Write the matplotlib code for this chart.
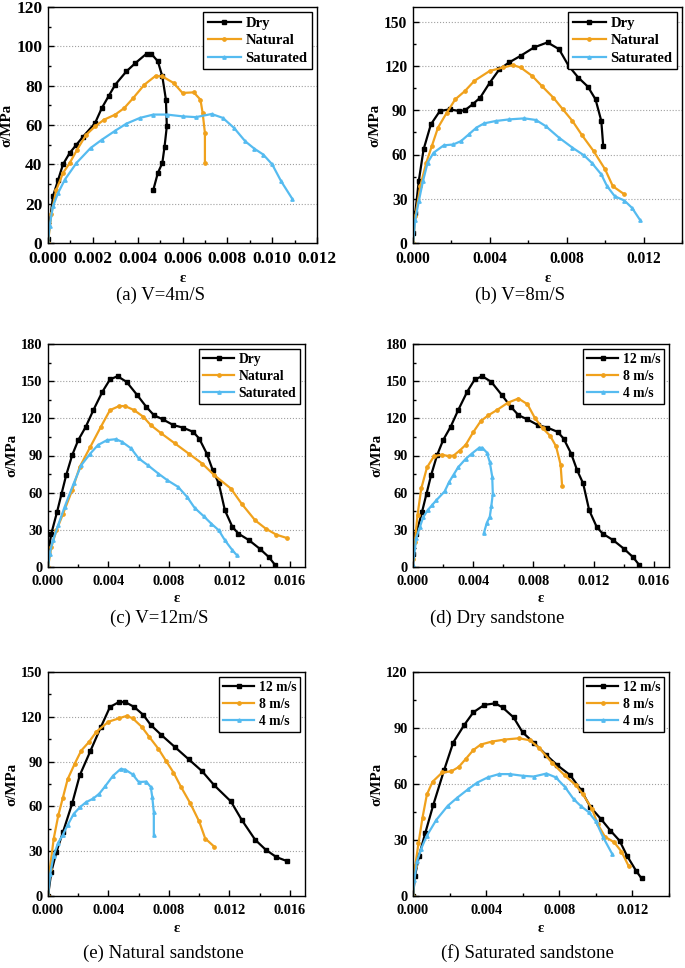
import matplotlib
matplotlib.use("Agg")
import matplotlib.pyplot as plt
from matplotlib.ticker import MultipleLocator, AutoMinorLocator

plt.rcParams['font.family'] = ['Liberation Serif', 'DejaVu Serif']

# ---- data (strain, stress in MPa) ----
# dry sandstone
dry4_x = [0, 0.00022, 0.00045, 0.00067, 0.00097, 0.00127, 0.00156, 0.0021, 0.0024, 0.0027, 0.0030,
          0.0035, 0.0039, 0.0044, 0.0046, 0.0049, 0.0051, 0.00526, 0.0053, 0.0052, 0.0051, 0.0049, 0.0047]
dry4_y = [2, 23.7, 32, 40, 45.8, 50, 54, 61, 68.6, 74.6, 80.5,
          87.3, 91.5, 96.3, 96.3, 92.4, 84.7, 72.9, 59.3, 49, 40.7, 35.6, 27.1]
dry8_x = [0, 0.00012, 0.0003, 0.00055, 0.00093, 0.0014, 0.0019, 0.0024, 0.0027, 0.0031, 0.0035, 0.0040,
          0.0045, 0.0050, 0.0056, 0.0063, 0.0070, 0.0076, 0.0081, 0.0086, 0.0091, 0.0095, 0.0098, 0.0099]
dry8_y = [6.8, 20.4, 42, 63.4, 80.4, 89.5, 90.6, 89.5, 90, 94, 98.6, 108.8,
          117.8, 122.4, 126.9, 132.6, 136, 131.4, 120.1, 112.2, 106, 97.4, 82.7, 65.7]
dry12_x = [0, 0.00022, 0.0006, 0.0009, 0.0012, 0.0016, 0.0020, 0.0025, 0.0030, 0.0036, 0.0041, 0.0046,
           0.0052, 0.0059, 0.0065, 0.0070, 0.0076, 0.0083, 0.0089, 0.0096, 0.0100, 0.0105, 0.0109,
           0.0113, 0.0117, 0.0122, 0.0126, 0.0133, 0.0140, 0.0146, 0.0150]
dry12_y = [10.8, 27, 44.5, 59.3, 74, 90.3, 102.4, 113.2, 126.6, 141.5, 151.4, 154,
           149.4, 138.8, 129.3, 122.6, 119.1, 114.5, 112.6, 109.1, 103.7, 91.6, 78.1,
           67.4, 45.8, 32.3, 26.9, 21.6, 14.8, 8.1, 2]

# natural sandstone
nat4_x = [0, 0.00015, 0.00037, 0.00067, 0.00097, 0.0013, 0.0017, 0.0021, 0.0025, 0.0030, 0.0034,
          0.0038, 0.0043, 0.0048, 0.0051, 0.0056, 0.0060, 0.0065, 0.0068, 0.0069, 0.0070, 0.0070]
nat4_y = [0, 15, 27, 35.6, 40.7, 47.5, 55, 59.3, 62.7, 65.3, 68.6,
          73.7, 80.5, 85, 84.7, 81.4, 76.3, 76.6, 72.9, 66, 56, 40.7]
nat8_x = [0, 0.00012, 0.00038, 0.00069, 0.00098, 0.0013, 0.00176, 0.0022, 0.0027, 0.0032, 0.0040,
          0.0047, 0.0052, 0.0056, 0.0062, 0.0067, 0.0073, 0.0078, 0.0083, 0.0088, 0.0094, 0.0100,
          0.0104, 0.0110]
nat8_y = [0, 18, 38.5, 54.4, 65.7, 78.2, 88.4, 97.4, 103, 110, 116.7,
          119, 120.6, 119, 113.3, 106.5, 98.6, 90.6, 82.7, 73, 62.3, 49.9,
          38.5, 33]
nat12_x = [0, 0.00022, 0.00056, 0.0010, 0.0016, 0.0021, 0.0028, 0.0035, 0.0041, 0.0047, 0.0051,
           0.0057, 0.0063, 0.0068, 0.0075, 0.0084, 0.0093, 0.0102, 0.0110, 0.0121, 0.0128,
           0.0137, 0.0144, 0.0151, 0.0158]
nat12_y = [0, 16.2, 29.6, 43.1, 62, 80.8, 97, 113.2, 126.6, 129.9, 129.9,
           126.6, 121.3, 114.5, 107.8, 99.7, 91.6, 83.5, 74.1, 63.3, 51.2,
           37.7, 31, 26.1, 23.4]

# saturated sandstone
sat4_x = [0, 0.00007, 0.00022, 0.00045, 0.00075, 0.00127, 0.0019, 0.0024, 0.0030, 0.0035, 0.0041,
          0.0047, 0.0053, 0.0060, 0.0066, 0.0073, 0.0078, 0.0083, 0.0088, 0.0092, 0.0096, 0.0100,
          0.0104, 0.0109]
sat4_y = [0, 8.5, 18.6, 25.4, 32.2, 40.7, 48.3, 52.5, 57.1, 60.7, 63.6,
          65.3, 65.3, 64.4, 64, 65.6, 63.6, 58.5, 51.7, 48, 45, 40,
          31.4, 22.4]
sat8_x = [0, 0.00012, 0.0003, 0.00052, 0.00076, 0.00107, 0.0016, 0.0021, 0.0025, 0.0029, 0.0033,
          0.0037, 0.0043, 0.0050, 0.0058, 0.0064, 0.0069, 0.0076, 0.0083, 0.0089, 0.0093, 0.0098,
          0.0101, 0.0105, 0.0110, 0.0114, 0.0118]
sat8_y = [0, 15.9, 28.3, 42, 54.4, 61.2, 66.2, 66.8, 69.1, 73.6, 78.2,
          81.1, 82.7, 83.8, 84.5, 83.4, 79.3, 71.4, 64.6, 59.4, 54.4, 46.5,
          38.5, 31.7, 28.8, 23.8, 15.9]
sat12_x = [0, 0.00011, 0.00033, 0.00067, 0.0011, 0.0017, 0.0022, 0.0028, 0.0033, 0.0039, 0.0045,
           0.0049, 0.0055, 0.0060, 0.0066, 0.0073, 0.0079, 0.0086, 0.0092, 0.0097, 0.0103,
           0.0108, 0.0113, 0.0117, 0.0122, 0.0125]
sat12_y = [0, 10.8, 21.6, 33.7, 48.5, 67.4, 82.2, 91.6, 98.4, 102.4, 103.2,
           101, 95.7, 87.6, 82.2, 75.4, 70, 64.7, 56.6, 47.7, 41,
           35, 29.6, 21.6, 13.5, 9.4]

state_labels = ['Dry', 'Natural', 'Saturated']
speed_labels = ['12 m/s', '8 m/s', '4 m/s']
captions = ['(a) V=4m/S', '(b) V=8m/S', '(c) V=12m/S',
            '(d) Dry sandstone', '(e) Natural sandstone', '(f) Saturated sandstone']

black = '#000000'
orange = '#F0A11C'
blue = '#55BBF0'
styles = [(black, 's'), (orange, 'o'), (blue, '^')]

W, H = 685, 968
fig = plt.figure(figsize=(W / 100, H / 100), dpi=100)


def add_ax(l, r, t, b):
    return fig.add_axes([l / W, 1 - b / H, (r - l) / W, (b - t) / H])


def draw(ax, curves, labels, xlim, xstep, ylim, ystep, fs, lfs):
    for (x, y), lab, (c, m) in zip(curves, labels, styles):
        ax.plot(x, y, color=c, lw=1.6, marker=m, ms=2.4, label=lab)
    ax.set_xlim(0, xlim)
    ax.set_ylim(0, ylim)
    ax.xaxis.set_major_locator(MultipleLocator(xstep))
    ax.yaxis.set_major_locator(MultipleLocator(ystep))
    ax.xaxis.set_minor_locator(AutoMinorLocator(2))
    ax.yaxis.set_minor_locator(AutoMinorLocator(2))
    ax.tick_params(which='both', direction='in', width=1, labelsize=fs)
    ax.tick_params(which='major', length=4)
    ax.tick_params(which='minor', length=2.5)
    ax.tick_params(axis='x', which='major', pad=6)
    ax.tick_params(axis='y', which='major', pad=4)
    for t in ax.get_xticklabels() + ax.get_yticklabels():
        t.set_fontweight('bold')
    for s in ax.spines.values():
        s.set_linewidth(1.0)
    for v in range(ystep, ylim + 1, ystep):
        if v < ylim:
            ax.axhline(v, color='#A0A0A0', lw=0.8, ls=':', zorder=0)
    ax.set_xlabel('ε', fontsize=10.5, fontweight='bold', labelpad=3)
    ax.set_ylabel('σ/MPa', fontsize=10.8, fontweight='bold', labelpad=2)
    leg = ax.legend(loc='upper right', frameon=True, fancybox=False,
                    edgecolor='black', framealpha=1, handlelength=2.3, handletextpad=0.3,
                    borderpad=0.3, labelspacing=0.3, borderaxespad=0.35,
                    prop={'weight': 'bold', 'size': lfs})
    leg.get_frame().set_linewidth(1.0)


ax_a = add_ax(48, 317, 7, 243)
draw(ax_a, [(dry4_x, dry4_y), (nat4_x, nat4_y), (sat4_x, sat4_y)], state_labels,
     0.012, 0.002, 120, 20, 12.5, 10.5)
ax_b = add_ax(413, 682, 7, 243)
draw(ax_b, [(dry8_x, dry8_y), (nat8_x, nat8_y), (sat8_x, sat8_y)], state_labels,
     0.014, 0.004, 160, 30, 11.2, 10.5)
ax_b.set_yticks([0, 30, 60, 90, 120, 150])
ax_c = add_ax(48, 305, 344, 567)
draw(ax_c, [(dry12_x, dry12_y), (nat12_x, nat12_y), (sat12_x, sat12_y)], state_labels,
     0.017, 0.004, 180, 30, 10.4, 9.8)
ax_d = add_ax(413, 669, 344, 567)
draw(ax_d, [(dry12_x, dry12_y), (dry8_x, dry8_y), (dry4_x, dry4_y)], speed_labels,
     0.017, 0.004, 180, 30, 10.4, 9.8)
ax_e = add_ax(48, 305, 672, 896)
draw(ax_e, [(nat12_x, nat12_y), (nat8_x, nat8_y), (nat4_x, nat4_y)], speed_labels,
     0.017, 0.004, 150, 30, 10.4, 9.8)
ax_f = add_ax(413, 669, 672, 896)
draw(ax_f, [(sat12_x, sat12_y), (sat8_x, sat8_y), (sat4_x, sat4_y)], speed_labels,
     0.014, 0.004, 120, 30, 10.4, 9.8)

# panel captions
cap_pos = [(160, 295), (520, 295), (159, 618), (497, 618), (163, 953), (527, 953)]
for (cx, cy), txt in zip(cap_pos, captions):
    fig.text(cx / W, 1 - cy / H, txt, ha='center', va='center', fontsize=13.5)

fig.savefig('out.png', dpi=100)
